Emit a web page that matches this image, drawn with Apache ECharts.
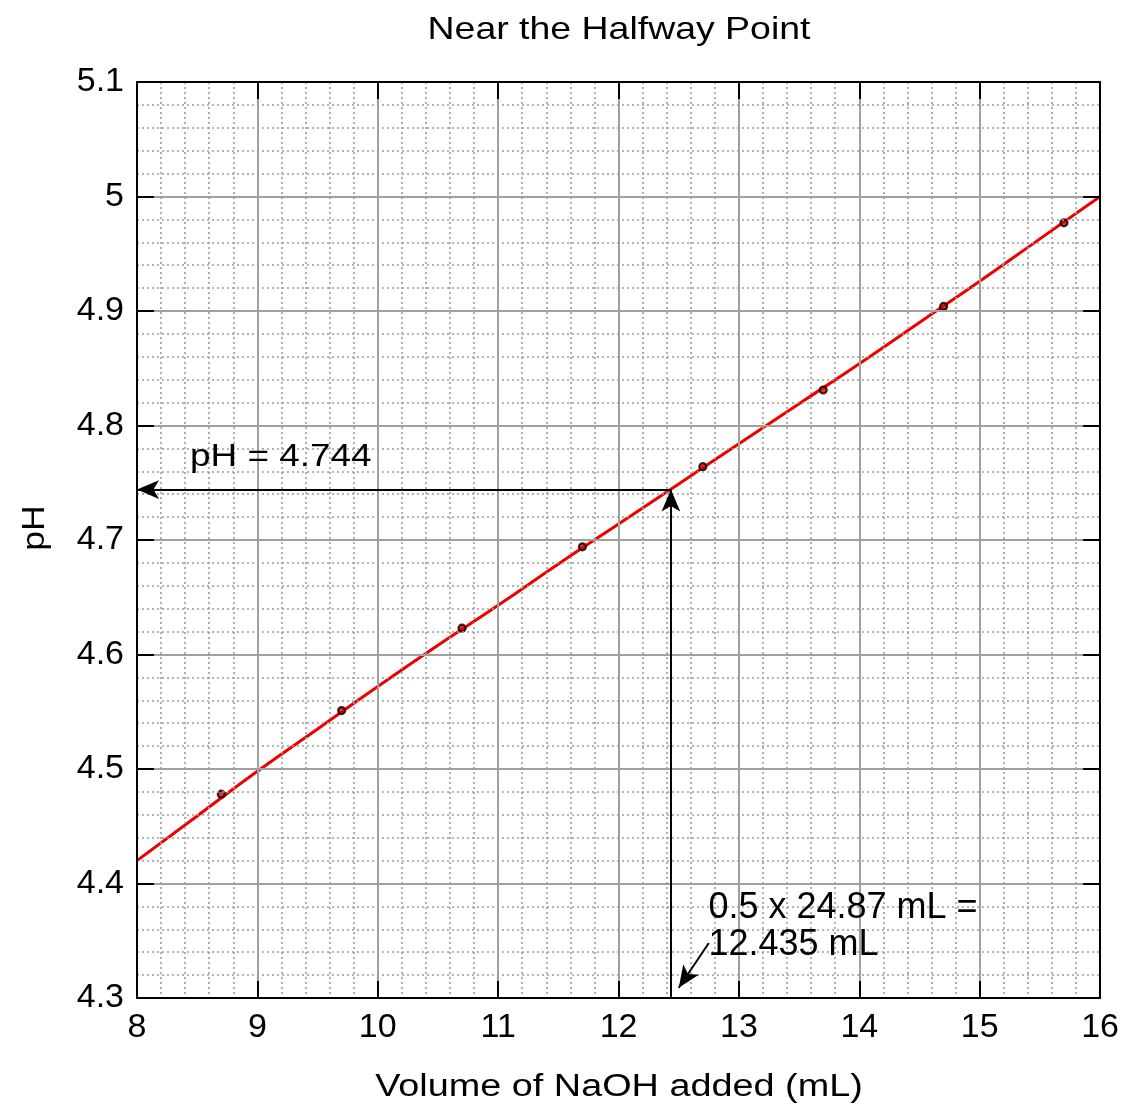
<!DOCTYPE html>
<html><head><meta charset="utf-8">
<script src="https://cdn.jsdelivr.net/npm/echarts@6/dist/echarts.min.js"></script>
<style>html,body{margin:0;padding:0;background:#fff}#c{width:1122px;height:1107px}</style>
</head><body><div id="c"></div>
<script>
// Titration curve (volume mL, pH)
var curveVolume = [8, 8.5, 9, 9.5, 10, 10.5, 11, 11.5, 12, 12.5, 13, 13.5, 14, 14.5, 15, 15.5, 16];
var curvePH = [4.420, 4.459, 4.498, 4.535, 4.572, 4.608, 4.643, 4.679, 4.714, 4.749, 4.784, 4.819, 4.854, 4.890, 4.926, 4.963, 5.000];
// Measured points (black dots)
var pointVolume = [8.7, 9.7, 10.7, 11.7, 12.7, 13.7, 14.7, 15.7];
var pointPH = [4.478, 4.551, 4.623, 4.694, 4.764, 4.831, 4.904, 4.977];
// Halfway point annotation
var halfVolume = 12.435;
var halfPH = 4.744;
var xTicks = [8, 9, 10, 11, 12, 13, 14, 15, 16];
var yTicks = [4.3, 4.4, 4.5, 4.6, 4.7, 4.8, 4.9, 5.0, 5.1];

var FONT = 'Liberation Sans, Arial, sans-serif';
var chart = echarts.init(document.getElementById('c'));

function axisBase(pos, isX, showLabel) {
  return {
    type: 'value',
    position: pos,
    min: isX ? xTicks[0] : yTicks[0],
    max: isX ? xTicks[xTicks.length - 1] : yTicks[yTicks.length - 1],
    interval: isX ? 1 : 0.1,
    axisLine: { show: true, onZero: false, lineStyle: { color: '#000', width: 2 } },
    axisTick: { show: true, inside: true, length: 17, lineStyle: { color: '#000', width: 2 } },
    axisLabel: { show: showLabel, fontFamily: FONT, fontSize: 34, color: '#000', margin: 13,
      formatter: function (v) { return isX ? String(Math.round(v)) : String(Math.round(v * 10) / 10); } },
    splitLine: { show: showLabel, lineStyle: { color: '#a0a0a0', width: 2 } },
    minorTick: { show: showLabel, splitNumber: 5, length: 0 },
    minorSplitLine: { show: showLabel, lineStyle: { color: '#9c9c9c', width: 1.6, type: [2, 3] } },
    z: 5
  };
}

var curveData = curveVolume.map(function (v, i) { return [v, curvePH[i]]; });
var pointData = pointVolume.map(function (v, i) { return [v, pointPH[i]]; });

chart.setOption({
  animation: false,
  backgroundColor: '#fff',
  grid: { left: 137, right: 21, top: 82, bottom: 109, containLabel: false },
  xAxis: [axisBase('bottom', true, true), axisBase('top', true, false)],
  yAxis: [axisBase('left', false, true), axisBase('right', false, false)],
  series: [
    {
      type: 'line', data: curveData, smooth: true, showSymbol: false,
      lineStyle: { color: '#ee0000', width: 3 }, z: 3,
      markLine: {
        silent: true, animation: false,
        lineStyle: { color: '#000', width: 2, type: 'solid' },
        label: { show: false },
        symbolSize: [14, 22],
        data: [
          [{ coord: [halfVolume, halfPH], symbol: 'none' }, { coord: [xTicks[0], halfPH], symbol: 'arrow' }],
          [{ coord: [halfVolume, yTicks[0]], symbol: 'none' }, { coord: [halfVolume, halfPH], symbol: 'arrow' }],
          [{ coord: [12.75, 4.348], symbol: 'none' }, { coord: [12.5, 4.309], symbol: 'arrow' }]
        ]
      }
    },
    {
      type: 'scatter', data: pointData, symbol: 'circle', symbolSize: 7,
      itemStyle: { color: '#ee0000', borderColor: '#000', borderWidth: 2.2 }, z: 4
    }
  ]
});

function placeText() {
  var p1 = chart.convertToPixel({ gridIndex: 0 }, [8.44, 4.772]);
  var p2 = chart.convertToPixel({ gridIndex: 0 }, [12.747, 4.33]);
  chart.setOption({
    graphic: [
      { type: 'text', x: 619, y: 30, scaleX: 1.17, style: { text: 'Near the Halfway Point', font: '32px ' + FONT, fill: '#000', align: 'center', verticalAlign: 'middle' } },
      { type: 'text', x: 619, y: 1087, scaleX: 1.22, style: { text: 'Volume of NaOH added (mL)', font: '31px ' + FONT, fill: '#000', align: 'center', verticalAlign: 'middle' } },
      { type: 'text', x: 35, y: 528, rotation: Math.PI / 2, scaleX: 1.15, style: { text: 'pH', font: '31px ' + FONT, fill: '#000', align: 'center', verticalAlign: 'middle' } },
      { type: 'text', x: p1[0], y: p1[1], scaleX: 1.19, z: 10, style: { text: 'pH = 4.744', font: '31px ' + FONT, fill: '#000', align: 'left', verticalAlign: 'middle' } },
      { type: 'text', x: p2[0], y: p2[1], z: 10, style: { text: '0.5 x 24.87 mL =\n12.435 mL', font: '36px ' + FONT, lineHeight: 37, fill: '#000', align: 'left', verticalAlign: 'bottom' } }
    ]
  });
}
placeText();
</script>
</body></html>
